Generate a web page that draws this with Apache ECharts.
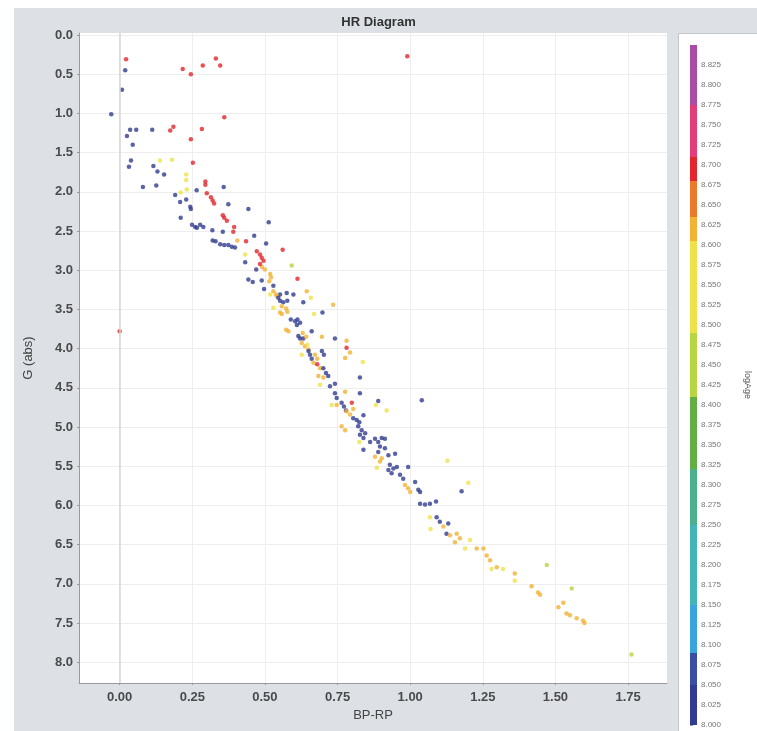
<!DOCTYPE html>
<html><head><meta charset="utf-8">
<script src="https://cdn.jsdelivr.net/npm/echarts@6/dist/echarts.min.js"></script>
<style>html,body{margin:0;padding:0;background:#fff}#c{width:757px;height:731px}</style>
</head><body><div id="c"></div>
<script>
// B=8.03 blue, R=8.70 red, O=8.62 orange, Y=8.55 yellow, G=8.45 yellow-green
const bpRp = [
 0.022,0.019,0.008,-0.029,0.217,0.245,0.286,0.331,0.346,0.36,0.99,0.0,
 0.036,0.057,0.025,0.112,0.174,0.185,0.283,0.245,0.045,0.039,0.032,0.139,0.18,0.252,0.116,0.13,0.153,0.229,
 0.229,0.295,0.08,0.126,0.295,0.358,0.231,0.265,0.30,0.191,0.21,0.229,0.208,0.314,0.32,0.325,0.374,0.243,
 0.245,0.443,0.21,0.355,0.36,0.369,0.394,0.249,0.26,0.277,0.288,0.266,0.319,0.355,0.391,0.513,0.32,0.33,
 0.346,0.36,0.374,0.386,0.397,0.405,0.435,0.463,0.504,0.472,0.483,0.489,0.495,0.561,0.432,0.432,0.592,0.47,
 0.49,0.50,0.518,0.521,0.515,0.443,0.458,0.489,0.612,0.529,0.497,0.552,0.575,0.598,0.541,0.644,
 0.483,0.529,0.538,0.518,0.546,0.552,0.563,0.577,0.632,0.658,0.558,0.573,0.577,0.529,0.552,0.558,0.698,0.669,
 0.735,0.589,0.604,0.612,0.621,0.61,0.573,0.581,0.661,0.615,0.621,0.632,0.63,0.642,0.696,0.741,0.781,0.627,
 0.638,0.646,0.65,0.781,0.793,0.776,0.627,0.65,0.655,0.661,0.672,0.68,0.696,0.703,0.667,0.68,0.69,0.701,
 0.71,0.718,0.684,0.701,0.837,0.827,0.69,0.724,0.741,0.741,0.747,0.776,0.827,0.73,0.747,0.764,0.772,0.779,
 0.799,0.804,0.781,0.793,0.89,0.882,0.919,1.04,0.804,0.816,0.825,0.839,0.821,0.833,0.845,0.764,0.776,0.839,
 0.862,0.879,0.89,0.902,0.913,0.825,0.896,0.913,0.827,0.89,0.879,0.839,0.902,0.896,0.925,0.948,0.993,0.93,
 0.942,0.954,0.925,0.936,0.885,0.965,0.976,0.982,0.993,1.0,1.017,1.028,1.034,1.128,1.2,1.177,1.034,1.051,
 1.068,1.089,1.068,1.091,1.102,1.131,1.125,1.137,1.07,1.114,1.16,1.171,1.154,1.189,1.206,1.229,1.252,1.263,
 1.275,1.28,1.298,1.32,1.36,1.36,1.418,1.44,1.447,1.47,1.556,1.51,1.527,1.538,1.55,1.573,1.595,1.60,1.762
];
const gAbs = [
 0.31,0.45,0.70,1.01,0.435,0.50,0.39,0.30,0.39,1.05,0.27,3.78,
 1.21,1.21,1.29,1.21,1.22,1.17,1.20,1.33,1.40,1.60,1.68,1.60,1.59,1.63,1.67,1.74,1.78,1.78,
 1.85,1.87,1.94,1.92,1.91,1.94,1.97,1.98,2.02,2.04,2.01,2.10,2.13,2.07,2.11,2.15,2.16,2.19,
 2.22,2.22,2.33,2.30,2.33,2.37,2.45,2.42,2.45,2.42,2.45,2.46,2.49,2.51,2.51,2.39,2.62,2.63,
 2.67,2.68,2.68,2.70,2.71,2.62,2.63,2.56,2.66,2.76,2.80,2.84,2.88,2.74,2.80,2.90,2.94,2.99,
 2.96,2.99,3.05,3.09,3.14,3.12,3.15,3.13,3.11,3.20,3.24,3.31,3.29,3.31,3.33,3.27,
 2.92,3.27,3.31,3.31,3.35,3.39,3.41,3.39,3.41,3.35,3.46,3.49,3.53,3.48,3.54,3.56,3.54,3.56,
 3.44,3.63,3.65,3.63,3.67,3.70,3.76,3.78,3.78,3.84,3.87,3.87,3.80,3.85,3.85,3.87,3.90,3.93,
 3.97,3.95,4.01,3.99,4.05,4.12,4.08,4.03,4.08,4.13,4.08,4.13,4.03,4.08,4.18,4.20,4.25,4.25,
 4.31,4.35,4.35,4.37,4.17,4.37,4.46,4.48,4.45,4.57,4.63,4.55,4.57,4.72,4.72,4.69,4.74,4.79,
 4.69,4.77,4.80,4.84,4.67,4.72,4.79,4.66,4.89,4.91,4.94,4.85,4.99,5.04,5.08,4.99,5.04,5.14,
 5.19,5.15,5.19,5.14,5.15,5.19,5.25,5.27,5.10,5.32,5.38,5.29,5.40,5.44,5.36,5.34,5.51,5.48,
 5.53,5.51,5.55,5.59,5.52,5.61,5.66,5.74,5.78,5.83,5.70,5.80,5.83,5.43,5.71,5.82,5.98,5.99,
 5.98,5.95,6.15,6.15,6.21,6.23,6.36,6.38,6.30,6.27,6.36,6.42,6.47,6.55,6.44,6.55,6.55,6.64,
 6.70,6.81,6.79,6.81,6.87,6.96,7.03,7.11,7.14,6.76,7.06,7.30,7.24,7.38,7.40,7.44,7.47,7.50,7.90
];
const logAge = [
 8.70,8.03,8.03,8.03,8.70,8.70,8.70,8.70,8.70,8.70,8.70,8.70,
 8.03,8.03,8.03,8.03,8.70,8.70,8.70,8.70,8.03,8.03,8.03,8.55,8.55,8.70,8.03,8.03,8.03,8.55,
 8.55,8.70,8.03,8.03,8.70,8.03,8.55,8.03,8.70,8.03,8.55,8.03,8.03,8.70,8.70,8.70,8.03,8.03,
 8.03,8.03,8.03,8.70,8.70,8.70,8.70,8.03,8.03,8.03,8.03,8.03,8.03,8.03,8.70,8.03,8.03,8.03,
 8.03,8.03,8.03,8.03,8.03,8.62,8.70,8.03,8.03,8.70,8.70,8.70,8.70,8.70,8.55,8.03,8.45,8.03,
 8.62,8.62,8.62,8.62,8.62,8.03,8.03,8.03,8.70,8.03,8.03,8.03,8.03,8.03,8.62,8.62,
 8.70,8.62,8.62,8.55,8.03,8.03,8.03,8.03,8.03,8.55,8.62,8.62,8.62,8.55,8.62,8.62,8.03,8.55,
 8.62,8.03,8.03,8.03,8.03,8.03,8.62,8.62,8.03,8.03,8.03,8.03,8.62,8.62,8.62,8.03,8.62,8.62,
 8.62,8.55,8.62,8.70,8.62,8.62,8.55,8.03,8.03,8.03,8.62,8.62,8.03,8.03,8.62,8.70,8.62,8.03,
 8.03,8.03,8.62,8.62,8.55,8.03,8.55,8.03,8.03,8.03,8.03,8.62,8.03,8.55,8.62,8.03,8.03,8.03,
 8.70,8.62,8.62,8.62,8.03,8.55,8.55,8.03,8.03,8.03,8.03,8.03,8.03,8.03,8.03,8.62,8.62,8.03,
 8.03,8.03,8.03,8.03,8.03,8.55,8.03,8.03,8.03,8.03,8.62,8.03,8.62,8.62,8.03,8.03,8.03,8.03,
 8.03,8.03,8.03,8.03,8.55,8.03,8.03,8.62,8.62,8.62,8.03,8.03,8.03,8.55,8.55,8.03,8.03,8.03,
 8.03,8.03,8.55,8.03,8.03,8.03,8.03,8.62,8.55,8.62,8.62,8.62,8.62,8.55,8.55,8.62,8.62,8.62,
 8.62,8.55,8.62,8.55,8.62,8.55,8.62,8.62,8.62,8.45,8.45,8.62,8.62,8.62,8.62,8.62,8.62,8.62,8.45
];
const xTicks = [0.00,0.25,0.50,0.75,1.00,1.25,1.50,1.75];
const yTicks = [0.0,0.5,1.0,1.5,2.0,2.5,3.0,3.5,4.0,4.5,5.0,5.5,6.0,6.5,7.0,7.5,8.0];
const barTicks = [8.000,8.025,8.050,8.075,8.100,8.125,8.150,8.175,8.200,8.225,8.250,8.275,8.300,8.325,8.350,8.375,8.400,8.425,8.450,8.475,8.500,8.525,8.550,8.575,8.600,8.625,8.650,8.675,8.700,8.725,8.750,8.775,8.800,8.825];
const ageEdges = [8.0,8.05,8.09,8.15,8.25,8.32,8.41,8.49,8.605,8.635,8.68,8.71,8.775,8.85];
const ageColors = ['#313c90','#3a4fa3','#3aa5dd','#45b4b8','#4db08c','#63ad45','#b7d443','#eee24a','#f2b234','#ea7b2c','#e2262b','#e33c78','#a84ca6'];

const points = bpRp.map((x,i)=>[x, gAbs[i], logAge[i]]);
const pieces = ageColors.map((c,i)=>({gte: ageEdges[i], lt: ageEdges[i+1], color: c}));
const barData = ageColors.map((c,i)=>[ageEdges[i], ageEdges[i+1]]);
const font = '"Liberation Sans", Arial, sans-serif';
const chart = echarts.init(document.getElementById('c'));
chart.setOption({
  backgroundColor:'#fff',
  animation:false,
  title:{text:'HR Diagram', left:'center', top:11, textStyle:{fontSize:13, fontWeight:'bold', color:'#333', fontFamily:font}},
  graphic:[
    {type:'rect', z:-10, silent:true, shape:{x:14,y:8,width:743,height:723}, style:{fill:'#dde1e6'}},
    {type:'rect', z:-9, silent:true, shape:{x:678.5,y:33.5,width:80,height:700}, style:{fill:'#fff', stroke:'#c3c7cc', lineWidth:1}}
  ],
  grid:[
    {left:79, right:90, top:33, bottom:48, show:true, backgroundColor:'#fff', borderWidth:0},
    {left:690, width:7, top:45, height:680, show:false}
  ],
  xAxis:[
    {type:'value', gridIndex:0, min:-0.14, max:1.884,
     name:'BP-RP', nameLocation:'middle', nameGap:25,
     nameTextStyle:{fontSize:13, color:'#444', fontFamily:font},
     axisLine:{show:true, onZero:false, lineStyle:{color:'#9a9a9a'}},
     axisTick:{show:true, customValues:xTicks, length:2, lineStyle:{color:'#9a9a9a'}},
     axisLabel:{customValues:xTicks, formatter:v=>v.toFixed(2), fontSize:13, fontWeight:'bold', color:'#4a4a4a', fontFamily:font, margin:8},
     splitLine:{show:true, lineStyle:{color:'#eeeeee'}}},
    {type:'value', gridIndex:1, min:0, max:1, show:false}
  ],
  yAxis:[
    {type:'value', gridIndex:0, inverse:true, min:-0.025, max:8.265,
     name:'G (abs)', nameLocation:'middle', nameRotate:90, nameGap:44,
     nameTextStyle:{fontSize:13, color:'#444', fontFamily:font},
     axisLine:{show:true, onZero:false, lineStyle:{color:'#9a9a9a'}},
     axisTick:{show:true, customValues:yTicks, length:2, lineStyle:{color:'#9a9a9a'}},
     axisLabel:{customValues:yTicks, formatter:v=>v.toFixed(1), fontSize:13, fontWeight:'bold', color:'#4a4a4a', fontFamily:font, margin:6},
     splitLine:{show:true, lineStyle:{color:'#eeeeee'}}},
    {type:'value', gridIndex:1, min:8.0, max:8.85, position:'right',
     name:'logAge', nameLocation:'middle', nameRotate:-90, nameGap:46,
     nameTextStyle:{fontSize:9, color:'#555', fontFamily:font},
     axisLine:{show:false},
     axisTick:{show:true, customValues:barTicks, length:3, lineStyle:{color:'#999'}},
     axisLabel:{customValues:barTicks, formatter:v=>v.toFixed(3), fontSize:8, color:'#777', fontFamily:font, margin:4},
     splitLine:{show:false}}
  ],
  visualMap:{type:'piecewise', show:false, dimension:2, seriesIndex:0, pieces:pieces},
  series:[
    {type:'scatter', xAxisIndex:0, yAxisIndex:0, data:points, symbolSize:4.5,
     markLine:{silent:true, symbol:['none','none'], label:{show:false},
       lineStyle:{color:'#d6d6d6', type:'solid', width:1.5}, data:[{xAxis:0}]}},
    {type:'custom', xAxisIndex:1, yAxisIndex:1, data:barData, silent:true,
     renderItem:function(params, api){
       const p0 = api.coord([0, api.value(0)]);
       const p1 = api.coord([1, api.value(1)]);
       return {type:'rect', shape:{x:p0[0], y:p1[1], width:p1[0]-p0[0], height:p0[1]-p1[1]},
               style:{fill: ageColors[params.dataIndex]}};
     }}
  ]
});
</script></body></html>
